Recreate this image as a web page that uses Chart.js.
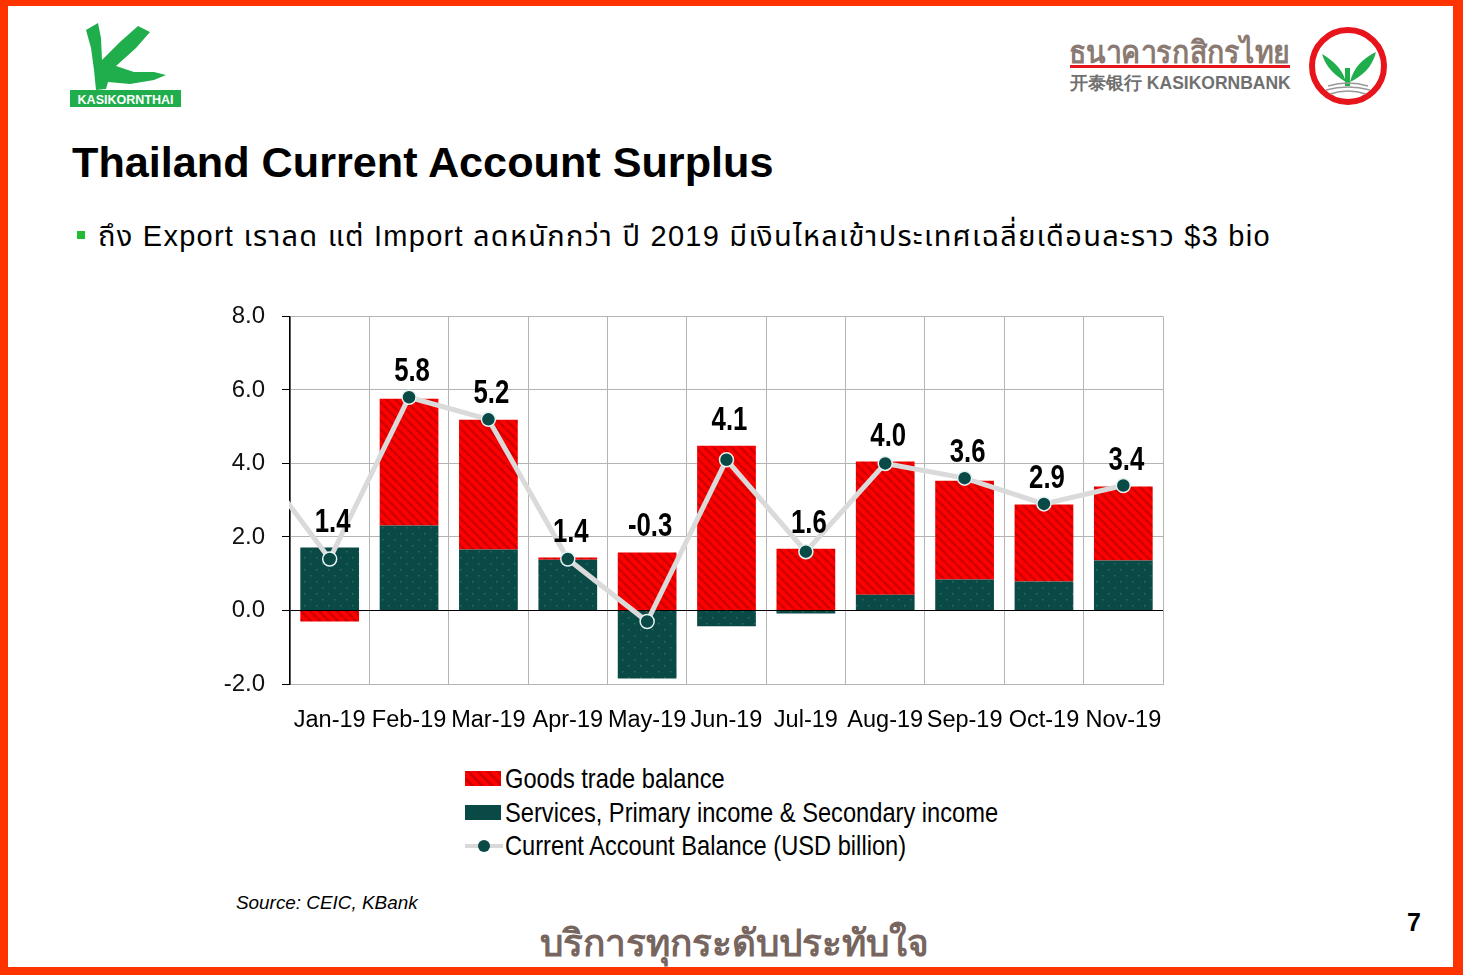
<!DOCTYPE html>
<html>
<head>
<meta charset="utf-8">
<script src="https://cdn.jsdelivr.net/npm/chart.js@4.4.1/dist/chart.umd.min.js"></script>
<style>
  html, body { margin: 0; padding: 0; }
  body { width: 1463px; height: 975px; background: #ff3300; position: relative; overflow: hidden; font-family: 'Liberation Sans', Arial, sans-serif; }
  #page { position: absolute; left: 8px; top: 6px; width: 1445px; height: 961px; background: #fff; }
  .abs { position: absolute; }
  #title { left: 72px; top: 138px; font-size: 43.2px; font-weight: bold; color: #000; white-space: nowrap; }
  #bullet { left: 77px; top: 231px; width: 8px; height: 8px; background: #22bb33; }
  #subtitle { left: 98px; top: 215px; font-size: 29px; letter-spacing: 1.25px; color: #000; white-space: nowrap; font-family: 'Liberation Sans', 'Noto Sans Thai', 'Noto Sans', sans-serif; }
  #chartBox { left: 200px; top: 285px; width: 990px; height: 465px; }
  .leg { left: 465px; height: 33px; display: flex; align-items: center; font-size: 28px; color: #000; white-space: nowrap; }
  .leg span { display: inline-block; transform: scaleX(0.845); transform-origin: left center; }
  .sw { width: 36px; height: 15px; margin-right: 4px; }
  #source { left: 236px; top: 892px; font-size: 18.9px; font-style: italic; color: #000; }
  #footer { left: 540px; top: 913px; font-size: 37px; color: #776660; white-space: nowrap; font-weight: bold; }
  #pagenum { left: 1407px; top: 908px; font-size: 25px; font-weight: bold; color: #000; }
</style>
</head>
<body>
<div id="page"></div>

<!-- KASIKORNTHAI logo -->
<svg class="abs" style="left:68px;top:20px" width="116" height="90" viewBox="0 0 116 90">
  <path d="M18 10 L30 3 L33 18 L34 40 L52 22 L70 6 L82 12 L68 28 L48 46 L66 52 L86 52 L98 55 L86 60 L62 64 L40 62 L38 69 L28 70 L26 50 L23 28 Z" fill="#1fae4b"/>
  <rect x="2" y="70" width="111" height="17" fill="#1fae4b"/>
  <text x="57.5" y="83.5" text-anchor="middle" font-family="Liberation Sans, Arial" font-weight="bold" font-size="12.5" fill="#fff">KASIKORNTHAI</text>
</svg>

<!-- KASIKORNBANK logo -->
<div class="abs" style="left:1069px;top:27px;font-size:31px;font-weight:bold;color:#8a7a72;white-space:nowrap;transform:scaleX(0.92);transform-origin:left top">ธนาคารกสิกรไทย</div>
<div class="abs" style="left:1070px;top:65px;width:220px;height:3px;background:#e8141b"></div>
<div class="abs" style="left:1070px;top:71px;font-size:17.5px;font-weight:bold;color:#707070;white-space:nowrap">开泰银行 KASIKORNBANK</div>
<svg class="abs" style="left:1306px;top:24px" width="84" height="84" viewBox="0 0 84 84">
  <circle cx="42" cy="42" r="36" fill="#fff" stroke="#e8141b" stroke-width="6"/>
  <path d="M40 58 C36 44 26 36 16 30 C20 44 30 52 40 58 Z" fill="#1fae4b"/>
  <path d="M44 58 C48 42 58 34 70 28 C66 44 56 52 44 58 Z" fill="#1fae4b"/>
  <rect x="39" y="44" width="5" height="18" fill="#1fae4b"/>
  <path d="M22 62 Q42 56 62 62 M20 66 Q42 60 64 66 M24 70 Q42 64 60 70" stroke="#999" stroke-width="1.5" fill="none"/>
</svg>

<div id="title" class="abs">Thailand Current Account Surplus</div>
<div id="bullet" class="abs"></div>
<div id="subtitle" class="abs">ถึง Export เราลด แต่ Import ลดหนักกว่า ปี 2019 มีเงินไหลเข้าประเทศเฉลี่ยเดือนละราว $3 bio</div>

<div id="chartBox" class="abs"><canvas id="chart"></canvas></div>

<div class="abs leg" style="top:762px"><div class="sw" style="background:repeating-linear-gradient(45deg,#ff0000 0 4px,#d00000 4px 7px)"></div><span>Goods trade balance</span></div>
<div class="abs leg" style="top:796px"><div class="sw" style="background:#0a4a46"></div><span>Services, Primary income &amp; Secondary income</span></div>
<div class="abs leg" style="top:829px">
  <svg width="40" height="20"><line x1="0" y1="10" x2="38" y2="10" stroke="#d9d9d9" stroke-width="4"/><circle cx="19" cy="10" r="6" fill="#0a4a46"/></svg><span>Current Account Balance (USD billion)</span></div>

<div id="source" class="abs">Source: CEIC, KBank</div>
<div id="footer" class="abs">บริการทุกระดับประทับใจ</div>
<div id="pagenum" class="abs">7</div>

<script>
// Data (USD billion)
const prevMonth = 'Dec-18';
const prevCA = 4.3;
const months = ['Jan-19', 'Feb-19', 'Mar-19', 'Apr-19', 'May-19', 'Jun-19', 'Jul-19', 'Aug-19', 'Sep-19', 'Oct-19', 'Nov-19'];
const goodsTrade = [-0.3, 3.45, 3.53, 0.06, 1.58, 4.48, 1.68, 3.62, 2.69, 2.09, 2.01];
const servicesIncome = [1.71, 2.31, 1.66, 1.38, -1.85, -0.43, -0.08, 0.43, 0.84, 0.79, 1.36];
const currentAccount = [1.4, 5.8, 5.2, 1.4, -0.3, 4.1, 1.6, 4.0, 3.6, 2.9, 3.4];
const yTicks = [-2, 0, 2, 4, 6, 8];

const FONT = "'Liberation Sans', Arial, sans-serif";
const RED = '#ff0000';
const TEAL = '#0a4a46';

function stripePattern() {
    const c = document.createElement('canvas');
    c.width = 9; c.height = 9;
    const g = c.getContext('2d');
    g.fillStyle = RED;
    g.fillRect(0, 0, 9, 9);
    g.strokeStyle = '#cf0000';
    g.lineWidth = 2.6;
    for (let k = -1; k <= 1; k++) {
        g.beginPath();
        g.moveTo(k * 9, 0);
        g.lineTo(k * 9 + 9, 9);
        g.stroke();
    }
    return g.createPattern(c, 'repeat');
}

function dotPattern() {
    const c = document.createElement('canvas');
    c.width = 12; c.height = 12;
    const g = c.getContext('2d');
    g.fillStyle = TEAL;
    g.fillRect(0, 0, 12, 12);
    g.fillStyle = '#2c6c63';
    g.fillRect(2, 2, 1.5, 1.5);
    g.fillRect(8, 8, 1.5, 1.5);
    return g.createPattern(c, 'repeat');
}

const labels = [prevMonth, ...months];

// Value labels above each stack (narrow bold, like Arial Narrow)
const valueLabels = {
    id: 'valueLabels',
    afterDatasetsDraw(chart) {
        const { ctx, scales: { x, y } } = chart;
        ctx.save();
        ctx.font = 'bold 33px ' + FONT;
        ctx.fillStyle = '#000';
        ctx.textAlign = 'center';
        ctx.textBaseline = 'middle';
        months.forEach((m, i) => {
            const pos = Math.max(goodsTrade[i], 0) + Math.max(servicesIncome[i], 0);
            const top = Math.min(y.getPixelForValue(pos), y.getPixelForValue(currentAccount[i]));
            const px = x.getPixelForValue(i + 1);
            ctx.save();
            ctx.translate(px + 3, top - 25);
            ctx.scale(0.78, 1);
            ctx.fillText(currentAccount[i].toFixed(1), 0, 0);
            ctx.restore();
        });
        ctx.restore();
    }
};

new Chart(document.getElementById('chart'), {
    type: 'bar',
    data: {
        labels: labels,
        datasets: [
            {
                type: 'line',
                label: 'Current Account Balance (USD billion)',
                data: [prevCA, ...currentAccount],
                borderColor: '#dadada',
                borderWidth: 5,
                pointRadius: [0, ...months.map(() => 7)],
                pointBackgroundColor: TEAL,
                pointBorderColor: '#e4f4f2',
                pointBorderWidth: 1.5,
                tension: 0,
                order: 0,
                clip: { left: 1, right: 10, top: 10, bottom: 10 }
            },
            {
                label: 'Services, Primary income & Secondary income',
                data: [null, ...servicesIncome],
                backgroundColor: dotPattern(),
                stack: 's',
                order: 1
            },
            {
                label: 'Goods trade balance',
                data: [null, ...goodsTrade],
                backgroundColor: stripePattern(),
                stack: 's',
                order: 2
            }
        ]
    },
    options: {
        responsive: true,
        maintainAspectRatio: false,
        animation: false,
        layout: { padding: { top: 21, right: 27, left: 0, bottom: 0 } },
        datasets: { bar: { categoryPercentage: 1, barPercentage: 0.74 } },
        plugins: { legend: { display: false }, tooltip: { enabled: false } },
        scales: {
            x: {
                stacked: true,
                min: months[0],
                grid: { color: '#b4b4b4', lineWidth: 1, offset: true, drawTicks: false },
                border: { color: '#b4b4b4' },
                ticks: { color: '#000', font: { family: FONT, size: 23.5 }, padding: 22, maxRotation: 0, autoSkip: false },
                afterFit(scale) { scale.height = 66; }
            },
            y: {
                stacked: true,
                min: -2,
                max: 8,
                afterBuildTicks(scale) { scale.ticks = yTicks.map(v => ({ value: v })); },
                grid: {
                    color: ctx => ctx.tick && ctx.tick.value === 0 ? '#000' : '#b4b4b4',
                    tickColor: '#000',
                    tickLength: 8,
                    lineWidth: 1
                },
                border: { color: '#000', width: 1.5 },
                ticks: { color: '#111', font: { family: FONT, size: 24 }, padding: 17, callback: v => v.toFixed(1) },
                afterFit(scale) { scale.width = 90; }
            }
        }
    },
    plugins: [valueLabels]
});
</script>
</body>
</html>
